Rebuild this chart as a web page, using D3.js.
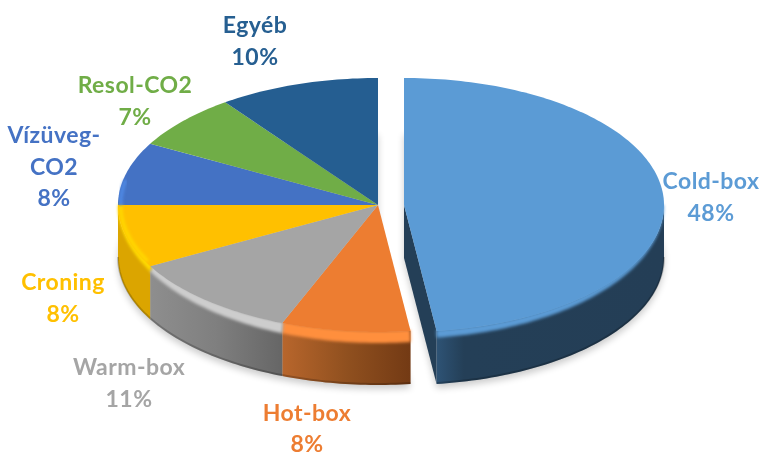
<!DOCTYPE html>
<html><head><meta charset="utf-8">
<script src="https://cdn.jsdelivr.net/npm/d3@7/dist/d3.min.js"></script>
<style>html,body{margin:0;background:#fff}svg{display:block}text{font-family:Lato,"Open Sans",sans-serif;font-weight:700;letter-spacing:.45px}</style>
</head><body><svg id="c" width="760" height="457"></svg>
<script>
const categories=["Cold-box","Hot-box","Warm-box","Croning","Vízüveg-CO2","Resol-CO2","Egyéb"];
const shares=[48,8,11,8,8,7,10];
const labelLines=[["Cold-box"],["Hot-box"],["Warm-box"],["Croning"],["Vízüveg-","CO2"],["Resol-CO2"],["Egyéb"]];
const topColors=["#5b9bd5","#ed7d31","#a5a5a5","#ffc000","#4472c4","#70ad47","#255e91"];
const rimColors=["#5b9bd5","#ff8f3e","#cdcdcd","#ffd900","#4f8ae6","#70ad47","#255e91"];
const wallStops=[["#2e5375","#243f57","#243e56"],["#b8662c","#90501f","#733a14"],["#8e8e8e","#7f7f7f","#666666"],["#dba500","#dba500","#dba500"]];
const labelCentres=[[711,181],[307,412.5],[129,367],[63,282],[54,135],[135,85],[255,25]];

const W=760,H=457,cx=378,cy=205,rx=260,ry=127,depth=53,explode=26,rim=11,fs=23,lh=31.5;
const svg=d3.select("#c");
const defs=svg.append("defs");
const blur=(id,s)=>defs.append("filter").attr("id",id).attr("x","-20%").attr("y","-20%").attr("width","140%").attr("height","140%").append("feGaussianBlur").attr("stdDeviation",s);
blur("sh",3.5);blur("rb",1.5);blur("tb",.35);
const arcs=d3.pie().value(d=>d).sort(null)(shares);
const X=d3.scaleLinear().domain([-1,1]).range([cx-rx,cx+rx]);
const Y=d3.scaleLinear().domain([-1,1]).range([cy-ry,cy+ry]);
const px=(a,r,dx,dy)=>[X(Math.sin(a)*r)+dx,Y(-Math.cos(a)*r)+dy];
const samples=(a0,a1)=>{const n=Math.max(2,Math.ceil((a1-a0)/0.02));return d3.range(n+1).map(i=>a0+(a1-a0)*i/n);};
const line=d3.line();
const wedge=(d,dx,dy)=>line([[X(0)+dx,Y(0)+dy],...samples(d.startAngle,d.endAngle).map(a=>px(a,1,dx,dy))])+"Z";
const offsetOf=i=>i===0?explode:0;
const PI=Math.PI;
// shadow
const gS=svg.append("g").attr("filter","url(#sh)").attr("fill","#000").attr("opacity",.2);
arcs.forEach((d,i)=>gS.append("path").attr("d",wedge(d,offsetOf(i),depth+4)));
// walls
arcs.forEach((d,i)=>{
  const a0=Math.max(d.startAngle,PI/2),a1=Math.min(d.endAngle,3*PI/2);
  if(a1<=a0)return;
  const dx=offsetOf(i),ss=samples(a0,a1);
  const gid="w"+i;
  const g=defs.append("linearGradient").attr("id",gid);
  const stops=(i===0)?[[0,"#2e5375"],[.12,"#243f57"],[1,"#243e56"]]:wallStops[i].map((c,k)=>[k/2,c]);
  stops.forEach(s=>g.append("stop").attr("offset",s[0]).attr("stop-color",s[1]));
  const pts=[...ss.map(a=>px(a,1,dx,0)),...ss.slice().reverse().map(a=>px(a,1,dx,depth))];
  if(i===0){
    const e=px(d.endAngle,1,dx,0);
    svg.append("path").attr("d",line([[X(0)+dx,Y(0)],e,[e[0],e[1]+depth],[X(0)+dx,Y(0)+depth]])+"Z").attr("fill","#243f57");
  }
  svg.append("path").attr("d",line(pts)+"Z").attr("fill",`url(#${gid})`);
  const edge=ss.map(a=>px(a,1,dx,depth-1));
  svg.append("path").attr("d",line(edge)).attr("fill","none").attr("stroke","#000").attr("stroke-opacity",.2).attr("stroke-width",2);
});
// bevel bands sit under the faces, blurred into the wall
arcs.forEach((d,i)=>{
  if(i>3)return;
  const dx=offsetOf(i);
  const ss=samples(Math.max(d.startAngle,PI/2),Math.min(d.endAngle,3*PI/2));
  const band=(i===0?.6:1)*rim;
  const pts=[...ss.map(a=>px(a,.99,dx,0)),...ss.slice().reverse().map(a=>px(a,1,dx,Math.max(0,-Math.cos(a))*band))];
  svg.append("path").attr("d",line(pts)+"Z").attr("fill",rimColors[i]).attr("filter","url(#rb)");
});
// faces
arcs.forEach((d,i)=>svg.append("path").attr("d",wedge(d,offsetOf(i),0)).attr("fill",topColors[i]));
// soft highlight just inside the left edge
[3,4].forEach(i=>{
  const d=arcs[i];
  const ss=i===3?samples(d.startAngle+.04,d.endAngle):samples(d.startAngle,d.startAngle+.2);
  svg.append("path").attr("d",line(ss.map(a=>px(a,.99,0,0)))).attr("fill","none").attr("stroke",rimColors[i]).attr("stroke-width",3.5).attr("filter","url(#rb)");
});
// labels
const lg=svg.append("g").attr("font-size",fs).attr("text-anchor","middle").attr("filter","url(#tb)");
categories.forEach((c,i)=>{
  const lines=[...labelLines[i],d3.format(".0f")(shares[i])+"%"];
  lines.forEach((t,k)=>lg.append("text").attr("x",labelCentres[i][0]).attr("y",labelCentres[i][1]+k*lh).attr("dy",".36em").attr("fill",topColors[i]).text(t));
});
</script></body></html>
